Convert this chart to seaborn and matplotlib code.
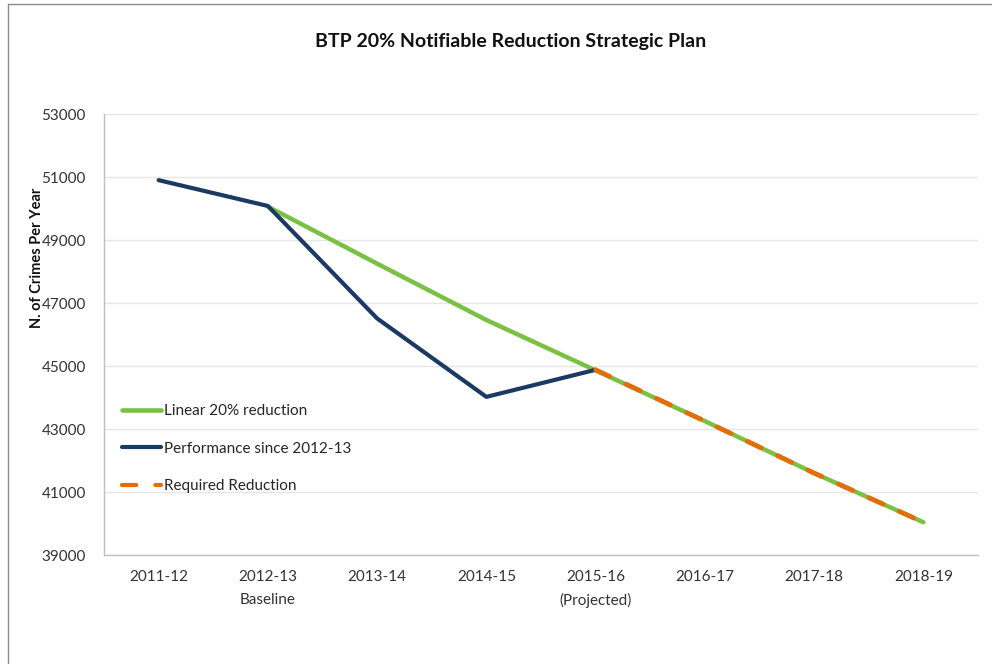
import matplotlib
matplotlib.use("Agg")
import matplotlib.pyplot as plt
from matplotlib.lines import Line2D
import seaborn as sns
import pandas as pd
import numpy as np

categories = ["2011-12", "2012-13\nBaseline", "2013-14", "2014-15",
              "2015-16\n(Projected)", "2016-17", "2017-18", "2018-19"]
linear_reduction = [np.nan, 50060, 48250, 46460, 44860, 43250, 41600, 40040]
performance = [50900, 50080, 46510, 44020, 44880, np.nan, np.nan, np.nan]
required_reduction = [np.nan, np.nan, np.nan, np.nan, 44880, 43250, 41600, 40040]
y_ticks = [39000, 41000, 43000, 45000, 47000, 49000, 51000, 53000]

labels = ["Linear 20% reduction", "Performance since 2012-13", "Required Reduction"]
colors = ["#7AC143", "#1B3A63", "#E46C0A"]

sns.set_theme(style="white")
plt.rcParams["font.family"] = ["Lato", "DejaVu Sans"]

fig = plt.figure(figsize=(9.92, 6.64), dpi=100)
ax = fig.add_axes([104/992, 1 - 555/664, (978 - 104)/992, (555 - 114)/664])

x = list(range(len(categories)))
df = pd.DataFrame({"x": x, "lin": linear_reduction, "perf": performance,
                   "req": required_reduction})

sns.lineplot(data=df, x="x", y="lin", ax=ax, color=colors[0], linewidth=3.2,
             solid_capstyle="round", zorder=3)
sns.lineplot(data=df, x="x", y="perf", ax=ax, color=colors[1], linewidth=3.0,
             solid_capstyle="round", zorder=4)
sns.lineplot(data=df, x="x", y="req", ax=ax, color=colors[2], linewidth=3.4,
             zorder=5)
req_line = ax.lines[-1]
req_line.set_linestyle((0, (3.3, 3.8)))
req_line.set_dash_capstyle("round")

ax.set_xlim(-0.5, len(categories) - 0.5)
ax.set_ylim(39000, 53000)
ax.set_yticks(y_ticks)
ax.set_yticklabels([str(v) for v in y_ticks], fontsize=11, color="#333333")
ax.set_xticks(x)
ax.set_xticklabels(categories, fontsize=11, color="#333333", linespacing=1.75)
ax.set_xticks(np.arange(-0.5, len(categories), 1.0), minor=True)
ax.tick_params(axis="x", which="major", length=0, pad=11)
ax.tick_params(axis="x", which="minor", length=5, color="#BFBFBF", width=1, direction="out")
ax.tick_params(axis="y", which="major", length=5, color="#BFBFBF", width=1, direction="out", pad=8)
ax.set_xlabel("")
ax.set_ylabel("")

ax.grid(axis="y", color="#E6E6E6", linewidth=1)
ax.set_axisbelow(True)
for s in ["top", "right"]:
    ax.spines[s].set_visible(False)
for s in ["left", "bottom"]:
    ax.spines[s].set_color("#BFBFBF")
    ax.spines[s].set_linewidth(1)

fig.text(511/992, 1 - 42/664, "BTP 20% Notifiable Reduction Strategic Plan",
         ha="center", va="center", fontsize=14, fontweight="bold", color="#111111")
fig.text(37/992, 1 - 258/664, "N. of Crimes Per Year", rotation=90,
         ha="center", va="center", fontsize=10.5, fontweight="bold", color="#111111")

handles = [
    Line2D([], [], color=colors[0], linewidth=3.3, solid_capstyle="round"),
    Line2D([], [], color=colors[1], linewidth=3.0, solid_capstyle="round"),
    Line2D([], [], color=colors[2], linewidth=3.0, linestyle=(0, (3.4, 4.6)),
           dash_capstyle="round"),
]
ax.legend(handles, labels, loc="upper left", bbox_to_anchor=(0.014, 0.356),
          frameon=False, fontsize=11, handlelength=2.5, handletextpad=0.2,
          labelspacing=1.55, borderaxespad=0)

# chart frame border
fig.add_artist(Line2D([8/992, 8/992], [0, 1 - 4/664], transform=fig.transFigure,
                      color="#8C8C8C", linewidth=1))
fig.add_artist(Line2D([8/992, 1], [1 - 4/664, 1 - 4/664], transform=fig.transFigure,
                      color="#8C8C8C", linewidth=1))

fig.savefig("out.png", dpi=100)
